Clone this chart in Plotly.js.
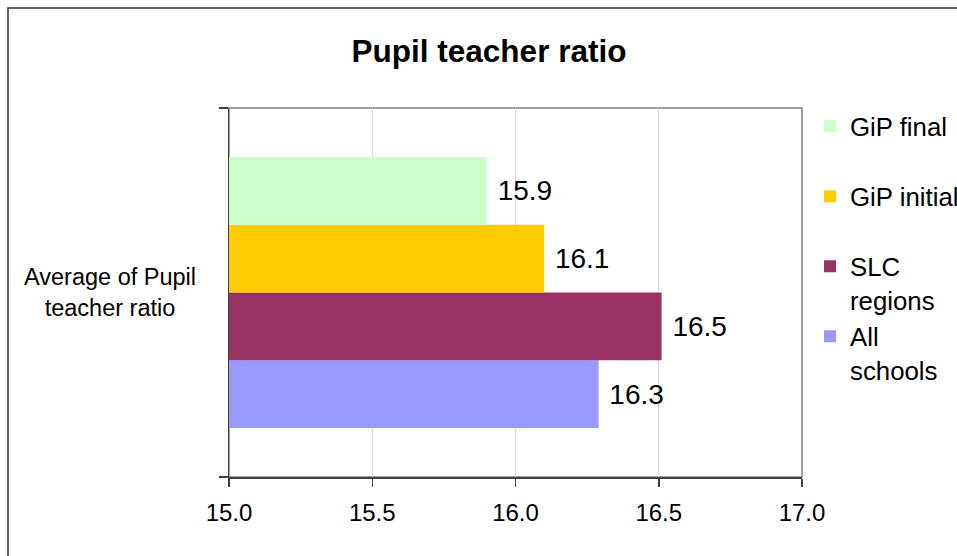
<!DOCTYPE html>
<html>
<head>
<meta charset="utf-8">
<script src="https://cdn.plot.ly/plotly-3.0.1.min.js"></script>
<style>html,body{margin:0;padding:0;background:#fff;}#chart{width:957px;height:556px;}</style>
</head>
<body>
<div id="chart"></div>
<script>
// Data (traces listed bottom-to-top as drawn)
const categories = ["Average of Pupil teacher ratio"];
const categoryLabel = ["Average of Pupil<br>teacher ratio"];
const seriesNames = ["All schools", "SLC regions", "GiP initial", "GiP final"];
const legendNames = ["All<br>schools", "SLC<br>regions", "GiP initial<br> ", "GiP final<br> "];
const seriesValues = [[16.29], [16.51], [16.10], [15.90]];
const seriesColors = ["#9999FF", "#993366", "#FFCC00", "#CCFFCC"];
const xTicks = [15.0, 15.5, 16.0, 16.5, 17.0];

const FONT = "Liberation Sans, Arial, sans-serif";

const traces = seriesNames.map((n, i) => ({
  type: "bar",
  orientation: "h",
  name: legendNames[i],
  y: categories,
  x: seriesValues[i],
  base: 0,
  marker: { color: seriesColors[i], line: { width: 0 } },
  texttemplate: "\u00A0%{x:.1f}",
  textposition: "outside",
  cliponaxis: false,
  constraintext: "none",
  textfont: { family: FONT, size: 28, color: "#000" },
  hoverinfo: "skip"
}));

const layout = {
  width: 957,
  height: 556,
  margin: { l: 229, r: 155, t: 108, b: 79, autoexpand: false },
  paper_bgcolor: "#fff",
  plot_bgcolor: "#fff",
  barmode: "group",
  bargap: 0.266,
  showlegend: true,
  font: { family: FONT, color: "#000" },
  title: {
    text: "<b>Pupil teacher ratio</b>",
    font: { family: FONT, size: 31.5, color: "#000" },
    x: 489 / 957, xanchor: "center", xref: "container",
    y: (556 - 51) / 556, yanchor: "middle", yref: "container"
  },
  xaxis: {
    range: [15, 17],
    tickvals: xTicks,
    tickformat: ".1f",
    showgrid: true,
    gridcolor: "#D9D9D9",
    gridwidth: 1,
    zeroline: false,
    showline: true,
    linecolor: "#404040",
    linewidth: 1.5,
    ticks: "outside",
    ticklen: 8,
    tickcolor: "#404040",
    tickwidth: 1.5,
    ticklabelstandoff: 6,
    tickfont: { family: FONT, size: 24, color: "#000" },
    fixedrange: true
  },
  yaxis: {
    type: "category",
    range: [-0.5, 0.5],
    showticklabels: false,
    showgrid: false,
    zeroline: false,
    showline: true,
    linecolor: "#404040",
    linewidth: 1.5,
    ticks: "outside",
    tickson: "boundaries",
    ticklen: 9,
    tickcolor: "#404040",
    tickwidth: 1.5,
    fixedrange: true
  },
  legend: {
    x: (810 - 229) / 573,
    xanchor: "left",
    y: 1.014,
    yanchor: "top",
    traceorder: "reversed",
    valign: "top",
    bgcolor: "rgba(0,0,0,0)",
    borderwidth: 0,
    font: { family: FONT, size: 25.8, color: "#000" }
  },
  annotations: [{
    xref: "paper", yref: "y",
    x: (110 - 229) / 573, y: categories[0],
    xanchor: "center", yanchor: "middle",
    text: categoryLabel[0],
    showarrow: false,
    align: "center",
    font: { family: FONT, size: 23.5, color: "#000" }
  }],
  shapes: [
    { type: "rect", xref: "paper", yref: "paper", layer: "below",
      x0: 0, x1: 1, y0: 0, y1: 1, line: { color: "#808080", width: 1.5 } },
    { type: "rect", xref: "paper", yref: "paper", layer: "above",
      x0: (8 - 229) / 573, x1: (975 - 229) / 573,
      y0: (477 - 575) / 369, y1: (477 - 8) / 369,
      line: { color: "#303030", width: 1.5 } }
  ]
};

Plotly.newPlot("chart", traces, layout, { staticPlot: true, displayModeBar: false });
</script>
</body>
</html>
